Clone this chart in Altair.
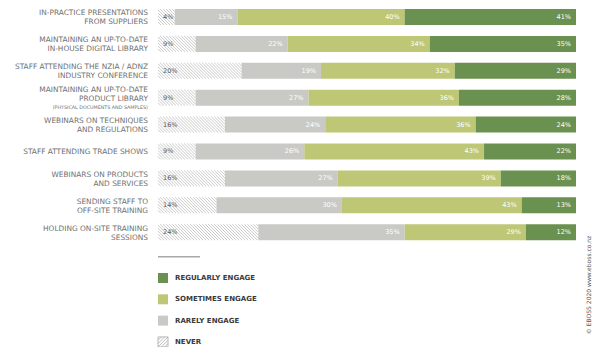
import altair as alt
import pandas as pd

activities = [
    ["IN-PRACTICE PRESENTATIONS", "FROM SUPPLIERS"],
    ["MAINTAINING AN UP-TO-DATE", "IN-HOUSE DIGITAL LIBRARY"],
    ["STAFF ATTENDING THE NZIA / ADNZ", "INDUSTRY CONFERENCE"],
    ["MAINTAINING AN UP-TO-DATE", "PRODUCT LIBRARY"],
    ["WEBINARS ON TECHNIQUES", "AND REGULATIONS"],
    ["STAFF ATTENDING TRADE SHOWS"],
    ["WEBINARS ON PRODUCTS", "AND SERVICES"],
    ["SENDING STAFF TO", "OFF-SITE TRAINING"],
    ["HOLDING ON-SITE TRAINING", "SESSIONS"],
]
subnotes = ["", "", "", "(PHYSICAL DOCUMENTS AND SAMPLES)", "", "", "", "", ""]
never = [4, 9, 20, 9, 16, 9, 16, 14, 24]
rarely = [15, 22, 19, 27, 24, 26, 27, 30, 35]
sometimes = [40, 34, 32, 36, 36, 43, 39, 43, 29]
regularly = [41, 35, 29, 28, 24, 22, 18, 13, 12]

categories = ["NEVER", "RARELY ENGAGE", "SOMETIMES ENGAGE", "REGULARLY ENGAGE"]
colors = ["#ffffff", "#c9cac5", "#bdc776", "#6b9150"]
legend_order = ["REGULARLY ENGAGE", "SOMETIMES ENGAGE", "RARELY ENGAGE", "NEVER"]
copyright_text = "© EBOSS 2020 www.eboss.co.nz"

# ---- build tables ----
seg_rows = []
for i in range(len(activities)):
    vals = [never[i], rarely[i], sometimes[i], regularly[i]]
    start = 0
    for c, v in zip(categories, vals):
        seg_rows.append({"row": i, "cat": c, "start": start, "end": start + v,
                         "label": f"{v}%"})
        start += v
seg = pd.DataFrame(seg_rows)

# one record per label line (main lines + optional small note line)
line_rows = []
for i, lines in enumerate(activities):
    all_lines = [(t, "main") for t in lines]
    if subnotes[i]:
        all_lines.append((subnotes[i], "note"))
    n = len(all_lines)
    for k, (t, kind) in enumerate(all_lines):
        line_rows.append({"row": i, "k": k, "n": n, "text": t, "kind": kind})
lines_df = pd.DataFrame(line_rows)

# hatch lines for the "never" segments (derived from the never values)
half = 0.297            # half bar height in row units
dx = 3.83               # horizontal run of a hatch line across the bar (x units)
step = 0.72             # spacing between hatch lines (x units)
hatch_rows = []
for i, nv in enumerate(never):
    x0 = -dx
    while x0 < nv:
        t0 = max(0.0, (0 - x0) / dx)
        t1 = min(1.0, (nv - x0) / dx)
        if t1 > t0:
            hatch_rows.append({"row": i,
                               "xa": x0 + dx * t0, "ya": i - half + 2 * half * t0,
                               "xb": x0 + dx * t1, "yb": i - half + 2 * half * t1})
        x0 += step
hatch = pd.DataFrame(hatch_rows)

leg = pd.DataFrame({"lrow": list(range(len(legend_order))), "cat": legend_order})
leg_line = pd.DataFrame({"lrow": [-1]})
cr = pd.DataFrame({"t": [copyright_text]})

FONT = "DejaVu Sans"
xs = alt.Scale(domain=[0, 100], nice=False, zero=False, padding=0)
ys = alt.Scale(domain=[-0.3346, 12.268], reverse=True, nice=False, zero=False, padding=0)
ls = alt.Scale(domain=[-12.676, 3.239], reverse=True, nice=False, zero=False, padding=0)
cs = alt.Scale(domain=categories, range=colors)

bars = alt.Chart(seg).mark_bar(orient="horizontal", size=16).encode(
    x=alt.X("start:Q", scale=xs, axis=None),
    x2="end:Q",
    y=alt.Y("row:Q", scale=ys, axis=None),
    color=alt.Color("cat:N", scale=cs, legend=None),
)

hatch_layer = alt.Chart(hatch).mark_rule(color="#bdbdbd", strokeWidth=0.8).encode(
    x=alt.X("xa:Q", scale=xs), x2="xb:Q",
    y=alt.Y("ya:Q", scale=ys), y2="yb:Q",
)

never_txt = alt.Chart(seg).transform_filter(alt.datum.cat == "NEVER").mark_text(
    align="left", baseline="middle", dx=5, fontSize=6.5, font=FONT, color="#5c5c5c"
).encode(x=alt.X("start:Q", scale=xs), y=alt.Y("row:Q", scale=ys), text="label:N")

other_txt = alt.Chart(seg).transform_filter(alt.datum.cat != "NEVER").mark_text(
    align="right", baseline="middle", dx=-5, fontSize=6.5, font=FONT, color="#ffffff"
).encode(x=alt.X("end:Q", scale=xs), y=alt.Y("row:Q", scale=ys), text="label:N")

# line spacing of 9px expressed in row units (26.9px per row)
line_base = alt.Chart(lines_df).transform_calculate(
    ly="datum.row + (datum.k - (datum.n - 1) / 2) * 0.3346 + 0.037"
)
cat_txt = line_base.transform_filter(alt.datum.kind == "main").mark_text(
    align="right", baseline="middle", dx=-10, fontSize=7.4, font=FONT, color="#707070"
).encode(x=alt.value(0), y=alt.Y("ly:Q", scale=ys), text="text:N")

note_txt = line_base.transform_filter(alt.datum.kind == "note").mark_text(
    align="right", baseline="middle", dx=-10, fontSize=4.8, font=FONT, color="#707070"
).encode(x=alt.value(0), y=alt.Y("ly:Q", scale=ys), text="text:N")

top = alt.layer(bars, hatch_layer, never_txt, other_txt, cat_txt, note_txt)

leg_rule = alt.Chart(leg_line).mark_rule(color="#a8a8a8", strokeWidth=1.5).encode(
    x=alt.value(0), x2=alt.value(42), y=alt.Y("lrow:Q", scale=ls, axis=None))

leg_sq = alt.Chart(leg).transform_filter(alt.datum.cat != "NEVER").mark_square(
    size=100, opacity=1).encode(
    x=alt.value(5), y=alt.Y("lrow:Q", scale=ls, axis=None),
    color=alt.Color("cat:N", scale=cs, legend=None))

leg_never = alt.Chart(leg).transform_filter(alt.datum.cat == "NEVER").mark_point(
    shape="M-1,-1H1V1H-1Z M-1,-0.33L-0.33,-1 M-1,0.33L0.33,-1 M-1,1L1,-1 M-0.33,1L1,-0.33 M0.33,1L1,0.33",
    size=100, filled=False, stroke="#a8a8a8", strokeWidth=0.8, opacity=1).encode(
    x=alt.value(5), y=alt.Y("lrow:Q", scale=ls, axis=None))

leg_txt = alt.Chart(leg).mark_text(
    align="left", baseline="middle", fontSize=7, fontWeight="bold", font=FONT,
    color="#3a3a3a").encode(
    x=alt.value(17), y=alt.Y("lrow:Q", scale=ls, axis=None), text="cat:N")

cr_txt = alt.Chart(cr).mark_text(
    angle=270, align="center", baseline="middle", fontSize=6, font=FONT,
    color="#555555").encode(x=alt.value(431), y=alt.value(277), text="t:N")

bottom = alt.layer(leg_rule, leg_sq, leg_never, leg_txt, cr_txt)

chart = alt.layer(top, bottom).resolve_scale(y="independent").properties(
    width=418, height=339,
    autosize=alt.AutoSizeParams(type="none"),
    padding={"left": 150, "top": 0, "right": 16, "bottom": 0},
    background="#ffffff",
).configure_view(stroke=None)

chart.save("out.html", embed_options={"renderer": "svg", "actions": False})
